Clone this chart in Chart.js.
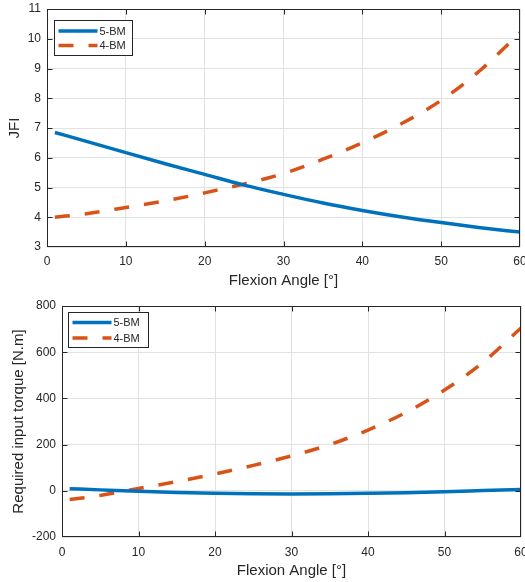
<!DOCTYPE html>
<html lang="en">
<head>
  <meta charset="UTF-8" />
  <title>JFI and input torque vs flexion angle</title>
  <script src="https://cdn.jsdelivr.net/npm/chart.js"></script>
  <style>
    html, body {
      margin: 0;
      padding: 0;
      background: #fff;
      width: 525px;
      height: 582px;
      overflow: hidden;
    }
    canvas {
      position: absolute;
      left: 0;
    }
  </style>
</head>
<body>
  <canvas id="jfiChart" width="545" height="290" style="top:0"></canvas>
  <canvas id="torqueChart" width="545" height="292" style="top:290px"></canvas>

  <script>
    // values
    const angles = [1, 5, 10, 15, 20, 25, 30, 35, 40, 45, 50, 55, 60];
    const jfi5BM = [6.85, 6.55, 6.17, 5.8, 5.44, 5.08, 4.77, 4.48, 4.23, 4.01, 3.82, 3.65, 3.5];
    const jfi4BM = [4.0, 4.12, 4.33, 4.55, 4.82, 5.12, 5.47, 5.95, 6.5, 7.15, 7.93, 8.95, 10.2];
    const torque5BM = [9, 4, -2, -7, -11, -13, -14, -13, -11, -8, -4, 1, 6];
    const torque4BM = [-38, -20, 10, 40, 73, 110, 151, 200, 263, 340, 436, 555, 705];
    const seriesNames = ['5-BM', '4-BM'];
    const xLabel = 'Flexion Angle [°]';

    const FONT = "'Liberation Sans', Arial, sans-serif";
    const INK = '#262626';
    const BLUE = '#0072BD';
    const ORANGE = '#D95319';

    // axes box with inward ticks on all four sides (matlab style)
    const framePlugin = {
      id: 'frame',
      afterDatasetsDraw(chart) {
        const { ctx, chartArea: a, scales: { x, y } } = chart;
        const L = Math.round(a.left) + 0.5, R = Math.round(a.right) - 0.5;
        const T = Math.round(a.top) + 0.5, B = Math.round(a.bottom) - 0.5;
        const len = 5;
        ctx.save();
        ctx.strokeStyle = INK;
        ctx.lineWidth = 1;
        ctx.strokeRect(L, T, R - L, B - T);
        ctx.beginPath();
        x.ticks.forEach(t => {
          const px = Math.round(x.getPixelForValue(t.value)) + 0.5;
          if (px <= L + 1 || px >= R - 1) return;
          ctx.moveTo(px, B); ctx.lineTo(px, B - len);
          ctx.moveTo(px, T); ctx.lineTo(px, T + len);
        });
        y.ticks.forEach(t => {
          const py = Math.round(y.getPixelForValue(t.value)) + 0.5;
          if (py <= T + 1 || py >= B - 1) return;
          ctx.moveTo(L, py); ctx.lineTo(L + len, py);
          ctx.moveTo(R, py); ctx.lineTo(R - len, py);
        });
        ctx.stroke();
        ctx.restore();
      }
    };

    // boxed legend inside the plot, top left
    const boxLegendPlugin = {
      id: 'boxLegend',
      afterDraw(chart, args, opts) {
        const { ctx, chartArea: a } = chart;
        const bx = Math.round(a.left + opts.dx) + 0.5;
        const by = Math.round(a.top + opts.dy) + 0.5;
        ctx.save();
        ctx.fillStyle = '#fff';
        ctx.fillRect(bx, by, opts.w, opts.h);
        ctx.strokeStyle = INK;
        ctx.lineWidth = 1;
        ctx.strokeRect(bx, by, opts.w, opts.h);
        chart.data.datasets.forEach((ds, i) => {
          const ry = by + opts.rows[i];
          ctx.beginPath();
          ctx.strokeStyle = ds.borderColor;
          ctx.lineWidth = ds.borderWidth;
          ctx.setLineDash(ds.borderDash || []);
          ctx.moveTo(bx + 4, ry);
          ctx.lineTo(bx + 43, ry);
          ctx.stroke();
          ctx.setLineDash([]);
          ctx.fillStyle = INK;
          ctx.font = '11px ' + FONT;
          ctx.textBaseline = 'middle';
          ctx.fillText(ds.label, bx + 45, ry + 0.5);
        });
        ctx.restore();
      }
    };

    function makeChart(id, ys, cfg) {
      const ctx = document.getElementById(id).getContext('2d');
      const styles = [
        { borderColor: BLUE, borderDash: [] },
        { borderColor: ORANGE, borderDash: [15, 15] }
      ];
      return new Chart(ctx, {
        type: 'line',
        data: {
          datasets: ys.map((vals, i) => ({
            label: seriesNames[i],
            data: angles.map((a, j) => ({ x: a, y: vals[j] })),
            borderColor: styles[i].borderColor,
            borderDash: styles[i].borderDash,
            borderWidth: 3.5,
            borderCapStyle: 'butt',
            pointRadius: 0,
            cubicInterpolationMode: 'monotone',
            fill: false
          }))
        },
        options: {
          responsive: false,
          animation: false,
          layout: { padding: cfg.padding },
          plugins: {
            legend: { display: false },
            tooltip: { enabled: false },
            boxLegend: cfg.legend
          },
          scales: {
            x: {
              type: 'linear',
              min: 0,
              max: 60,
              ticks: { stepSize: 10, padding: cfg.xTickPad, color: INK, font: { family: FONT, size: 12 } },
              grid: { color: '#e2e2e2', drawTicks: false },
              border: { display: false },
              title: { display: true, text: xLabel, color: INK, font: { family: FONT, size: 15 }, padding: { top: 0, bottom: cfg.xTitlePad } },
              afterFit: s => { s.height = cfg.xHeight; s.paddingLeft = 0; s.paddingRight = 0; }
            },
            y: {
              min: cfg.yMin,
              max: cfg.yMax,
              ticks: { stepSize: cfg.yStep, padding: 6, color: INK, font: { family: FONT, size: 12 } },
              grid: { color: '#e2e2e2', drawTicks: false },
              border: { display: false },
              title: { display: true, text: cfg.yLabel, color: INK, font: { family: FONT, size: 15 }, padding: { top: cfg.yTitlePad, bottom: 0 } },
              afterFit: s => { s.width = cfg.yWidth; s.paddingTop = 0; s.paddingBottom = 0; }
            }
          }
        },
        plugins: [framePlugin, boxLegendPlugin]
      });
    }

    makeChart('jfiChart', [jfi5BM, jfi4BM], {
      padding: { top: 9, right: 25, bottom: 0, left: 0 },
      xHeight: 43, xTickPad: 7, xTitlePad: 0,
      yWidth: 47, yTitlePad: 6,
      yMin: 3, yMax: 11, yStep: 1, yLabel: 'JFI',
      legend: { dx: 7, dy: 11, w: 78, h: 35, rows: [10.5, 25] }
    });

    makeChart('torqueChart', [torque5BM, torque4BM], {
      padding: { top: 16, right: 24, bottom: 0, left: 0 },
      xHeight: 45, xTickPad: 8, xTitlePad: 2,
      yWidth: 62, yTitlePad: 10,
      yMin: -200, yMax: 800, yStep: 200, yLabel: 'Required input torque [N.m]',
      legend: { dx: 6, dy: 6, w: 80, h: 35, rows: [10, 25.5] }
    });
  </script>
</body>
</html>
